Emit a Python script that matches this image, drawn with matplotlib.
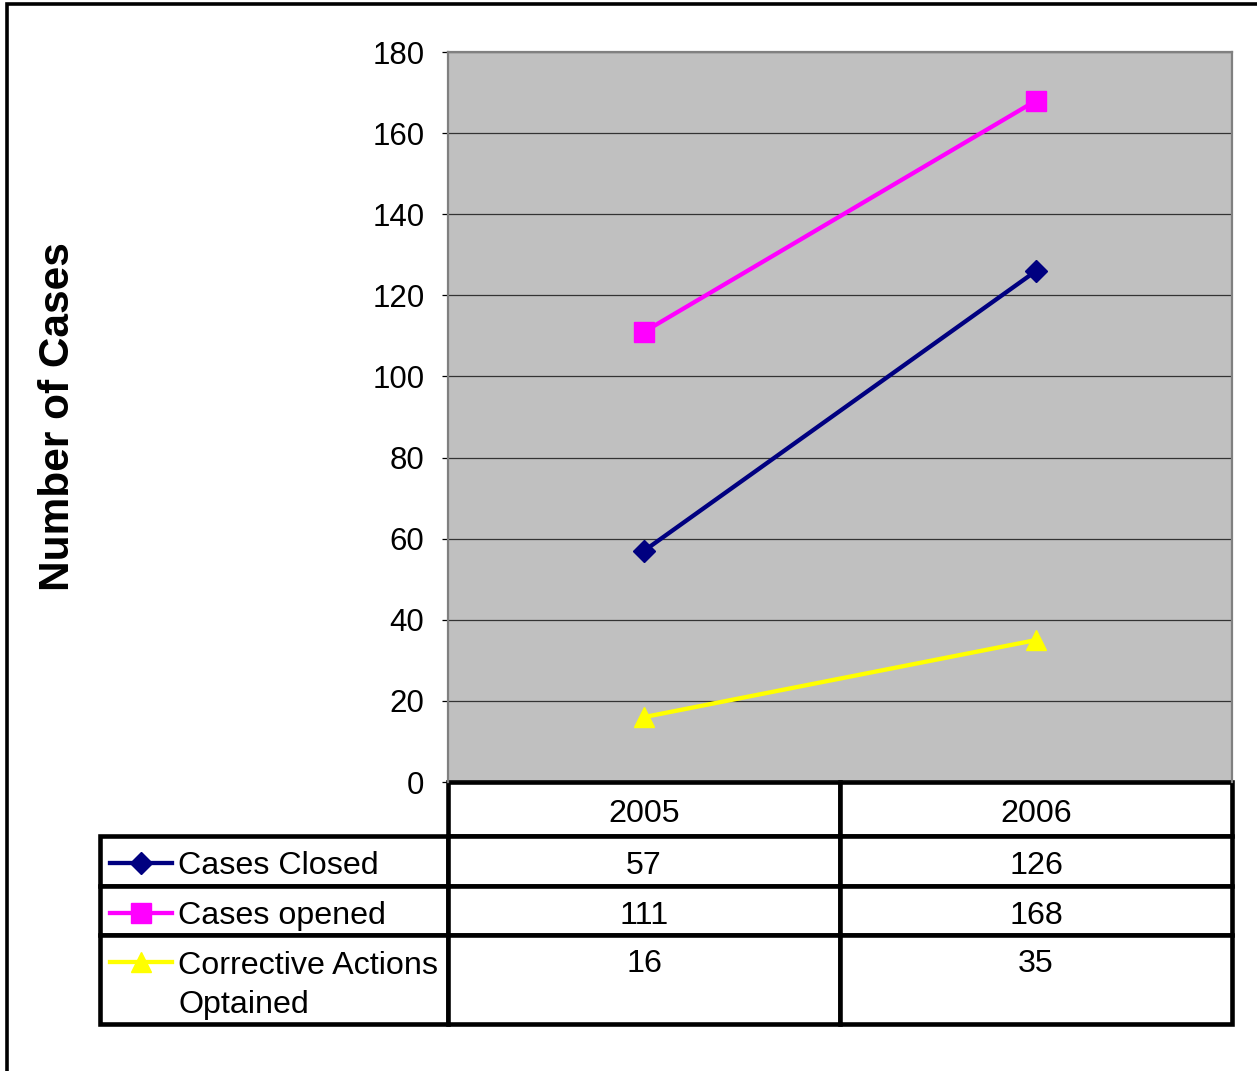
import numpy as np
import matplotlib
matplotlib.use("Agg")
from matplotlib import pyplot as plt
from matplotlib.patches import Rectangle
from matplotlib.table import Table
from matplotlib.transforms import ScaledTranslation

# chart data
years = ["2005", "2006"]
series_names = ["Cases Closed", "Cases opened", "Corrective Actions\nOptained"]
cases_closed = [57, 126]
cases_opened = [111, 168]
corrective_actions = [16, 35]
y_ticks = [0, 20, 40, 60, 80, 100, 120, 140, 160, 180]

series_values = [cases_closed, cases_opened, corrective_actions]
series_colors = ["#000080", "#FF00FF", "#FFFF00"]
series_markers = ["D", "s", "^"]
marker_sizes = [11, 14.5, 14]

W, H = 1257, 1071
plt.rcParams["font.family"] = ["Liberation Sans", "DejaVu Sans"]

fig = plt.figure(figsize=(W / 100, H / 100), dpi=100)
fig.patch.set_facecolor("white")

# chart frame (runs off the right and bottom edges)
fig.add_artist(Rectangle((6.5 / W, -0.1), 1.2, 1.1 - 4.5 / H,
                         transform=fig.transFigure, fill=False,
                         lw=2.6, ec="black"))

# plot area, in pixels of the output image
ax_px = (448, 52, 784, 730)
ax = fig.add_axes([ax_px[0] / W, 1 - (ax_px[1] + ax_px[3]) / H,
                   ax_px[2] / W, ax_px[3] / H])
ax.set_facecolor("#C0C0C0")
ax.set_xlim(0, len(years))
ax.set_ylim(y_ticks[0], y_ticks[-1])
ax.set_yticks(y_ticks)
ax.set_xticks([])
ax.yaxis.grid(True, color="#333333", lw=0.9)
ax.set_axisbelow(True)
for side in ("top", "right", "left"):
    ax.spines[side].set_color("#808080")
    ax.spines[side].set_linewidth(1.6)
ax.spines["bottom"].set_visible(False)
ax.tick_params(axis="y", direction="out", length=4.5, width=0.9,
               color="black", labelsize=22.5, pad=12.5)

x = np.arange(len(years)) + 0.5
for vals, color, marker, ms in zip(series_values, series_colors,
                                   series_markers, marker_sizes):
    ax.plot(x, vals, color=color, lw=3.1, marker=marker, ms=ms,
            mfc=color, mec=color, clip_on=False, zorder=3)

# data table under the plot (axes-fraction sizes)
row_h = [h / ax_px[3] for h in (54, 50, 49, 89)]
col_w = 1 / len(years)
label_w = 348 / ax_px[2]
last = len(row_h) - 1

tab = Table(ax, bbox=[0, -sum(row_h), 1, sum(row_h)])
for c, year in enumerate(years):
    tab.add_cell(0, c, width=col_w, height=row_h[0], text=year, loc="center")
for r, (name, vals) in enumerate(zip(series_names, series_values), start=1):
    cell = tab.add_cell(r, -1, width=label_w, height=row_h[r], text=name,
                        loc="left")
    cell.PAD = 78 / 348
    for c, v in enumerate(vals):
        tab.add_cell(r, c, width=col_w, height=row_h[r], text=str(v),
                     loc="center")
tab.auto_set_font_size(False)
tab.set_fontsize(23.2)
for (r, c), cell in tab.get_celld().items():
    cell.set_linewidth(3.3)
    cell.set_edgecolor("black")
    cell.set_facecolor("white")
    txt = cell.get_text()
    txt.set_linespacing(1.35)
    shift = -2
    if r < last:
        txt.set_va("center_baseline")
    elif c >= 0:
        txt.set_va("bottom")
        shift = 0
    else:
        txt.set_va("center")
        shift = -6
    # cell text sits in display pixels; nudge it down a little
    txt.set_transform(ScaledTranslation(0, shift / 100, fig.dpi_scale_trans))
ax.add_table(tab)

# legend keys in the row label cells
row_top = -row_h[0]
for h, color, marker, ms in zip(row_h[1:], series_colors, series_markers,
                                marker_sizes):
    ky = row_top - 27 / ax_px[3]
    ax.plot([-338 / 784, -276 / 784], [ky, ky], color=color, lw=3.1,
            transform=ax.transAxes, clip_on=False, zorder=5)
    ax.plot([-307 / 784], [ky], color=color, marker=marker, ms=ms,
            mfc=color, mec=color, transform=ax.transAxes, clip_on=False,
            zorder=5)
    row_top -= h

fig.text(58 / W, 1 - 417 / H, "Number of Cases", rotation=90, fontsize=30.5,
         fontweight="bold", ha="center", va="center")

fig.savefig("out.png", dpi=100)
